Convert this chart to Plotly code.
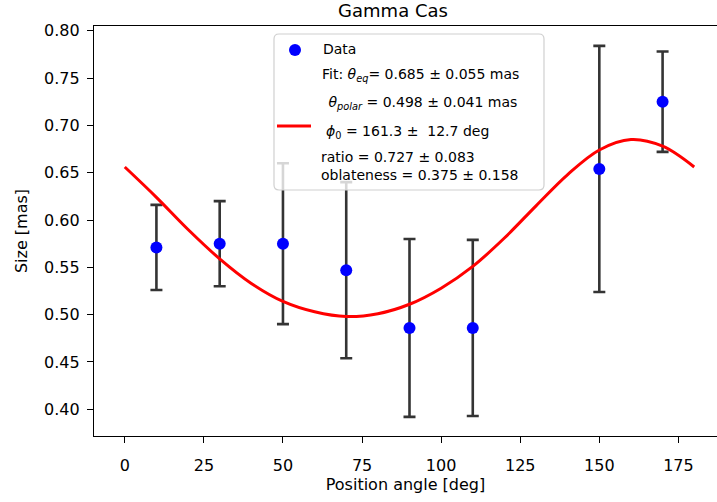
import plotly.graph_objects as go

# ---- data ----
position_angle = [10, 30, 50, 70, 90, 110, 150, 170]
size_mas = [0.571, 0.575, 0.575, 0.547, 0.486, 0.486, 0.654, 0.725]
size_err = [0.045, 0.045, 0.085, 0.093, 0.094, 0.093, 0.130, 0.053]

fit_pa = [0, 10, 20, 30, 40, 50, 60, 70, 80, 90, 100, 110, 120, 130, 140, 150, 160, 170, 180]
fit_size = [0.656, 0.624, 0.590, 0.559, 0.533, 0.514, 0.503, 0.498, 0.501, 0.511,
            0.528, 0.551, 0.581, 0.615, 0.648, 0.674, 0.685, 0.678, 0.656]

x_ticks = [0, 25, 50, 75, 100, 125, 150, 175]
y_ticks = [0.40, 0.45, 0.50, 0.55, 0.60, 0.65, 0.70, 0.75, 0.80]

legend_lines = [
    "Data",
    "Fit: <i>θ</i><sub><i>eq</i></sub>= 0.685 ± 0.055 mas",
    " <i>θ</i><sub><i>polar</i></sub> = 0.498 ± 0.041 mas",
    "<i>ϕ</i><sub>0</sub> = 161.3 ±  12.7 deg",
    "ratio = 0.727 ± 0.083",
    "oblateness = 0.375 ± 0.158",
]

W, H = 717, 502
L, R, T, B = 94, 717, 26, 436
FONT = "DejaVu Sans"


def fx(px):
    return (px - L) / (R - L)


def fy(py):
    return (B - py) / (B - T)


fig = go.Figure()

fig.add_trace(go.Scatter(
    x=position_angle, y=size_mas, mode="markers", name="Data",
    marker=dict(color="#0000ff", size=12),
    error_y=dict(type="data", array=size_err, visible=True,
                 color="rgba(30,30,30,0.9)", thickness=2.6, width=6),
    showlegend=False,
))

fig.add_trace(go.Scatter(
    x=fit_pa, y=fit_size, mode="lines", name="Fit",
    line=dict(color="#ff0000", width=3, shape="spline"),
    showlegend=False,
))

# ---- legend drawn as box + keys + text ----
bx0, bx1, by0, by1, rr = 274, 544, 34, 190, 5
x0, x1 = fx(bx0), fx(bx1)
y0, y1 = fy(by1), fy(by0)
dx, dy = rr / (R - L), rr / (B - T)
path = (f"M {x0+dx},{y0} L {x1-dx},{y0} Q {x1},{y0} {x1},{y0+dy} "
        f"L {x1},{y1-dy} Q {x1},{y1} {x1-dx},{y1} L {x0+dx},{y1} "
        f"Q {x0},{y1} {x0},{y1-dy} L {x0},{y0+dy} Q {x0},{y0} {x0+dx},{y0} Z")
shapes = [
    dict(type="path", path=path, xref="paper", yref="paper", layer="above",
         fillcolor="rgba(255,255,255,0.8)", line=dict(color="#d0d0d0", width=1.2)),
    dict(type="circle", xref="paper", yref="paper", layer="above",
         x0=fx(295 - 6), x1=fx(295 + 6), y0=fy(50 + 6), y1=fy(50 - 6),
         fillcolor="#0000ff", line=dict(width=0)),
    dict(type="line", xref="paper", yref="paper", layer="above",
         x0=fx(277), x1=fx(311), y0=fy(126), y1=fy(126),
         line=dict(color="#ff0000", width=3)),
]

text_pos = [(321, 49), (320, 75), (322, 103), (324, 132), (319, 157), (319, 175)]
annotations = []
for txt, (px, py) in zip(legend_lines, text_pos):
    annotations.append(dict(
        text=txt, x=fx(px), y=fy(py), xref="paper", yref="paper",
        xanchor="left", yanchor="middle", showarrow=False,
        font=dict(family=FONT, size=14, color="black"),
    ))

fig.update_layout(
    width=W, height=H,
    margin=dict(l=L, r=W - R, t=T, b=H - B, pad=0),
    paper_bgcolor="white", plot_bgcolor="white",
    font=dict(family=FONT, size=16, color="black"),
    title=dict(text="Gamma Cas", x=393 / W, xanchor="center",
               y=1 - 11 / H, yanchor="middle", xref="container", yref="container",
               font=dict(family=FONT, size=18, color="black")),
    shapes=shapes,
    annotations=annotations,
    showlegend=False,
)

fig.update_xaxes(
    range=[-9.73, 187.2], tickvals=x_ticks, ticktext=[str(v) for v in x_ticks],
    showgrid=False, zeroline=False, showline=True, linecolor="black", linewidth=1.3,
    mirror=True, ticks="outside", ticklen=6, tickwidth=1.3, tickcolor="black",
    tickfont=dict(family=FONT, size=16, color="black"), ticklabelstandoff=9,
    title=dict(text="Position angle [deg]", standoff=3,
               font=dict(family=FONT, size=16, color="black")),
)
fig.update_yaxes(
    range=[0.3718, 0.805], tickvals=y_ticks, ticktext=[f"{v:.2f}" for v in y_ticks],
    showgrid=False, zeroline=False, showline=True, linecolor="black", linewidth=1.3,
    mirror=False, ticks="outside", ticklen=6, tickwidth=1.3, tickcolor="black",
    tickfont=dict(family=FONT, size=16, color="black"), ticklabelstandoff=4,
    title=dict(text="Size [mas]", standoff=12,
               font=dict(family=FONT, size=16, color="black")),
)

fig.write_html("out.html")
